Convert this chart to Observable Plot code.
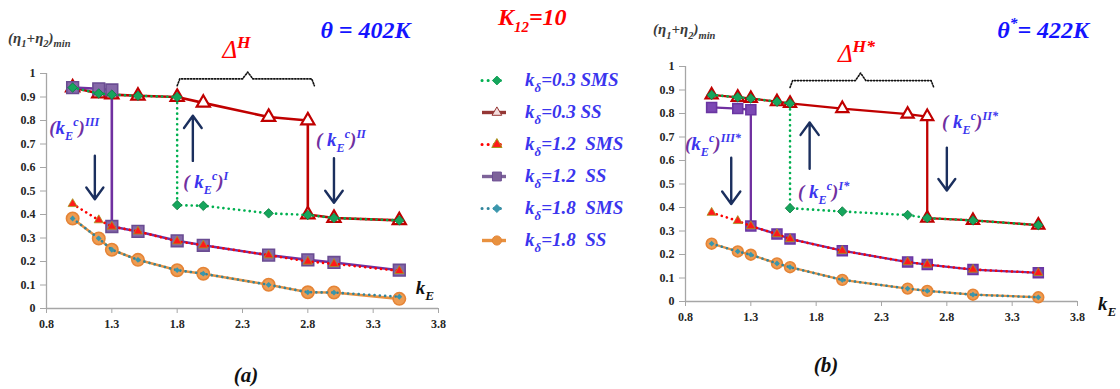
<!DOCTYPE html>
<html><head><meta charset="utf-8">
<script src="https://cdn.jsdelivr.net/npm/d3@7"></script>
<script src="https://cdn.jsdelivr.net/npm/@observablehq/plot@0.6"></script>
<style>
html,body{margin:0;padding:0;background:#fff;}
#wrap{position:relative;width:1120px;height:389px;background:#fff;overflow:hidden;}
#wrap > svg{position:absolute;top:0;}
.lbl{position:absolute;line-height:1;white-space:pre;font-family:'Liberation Serif','Times New Roman',serif;font-style:italic;}
</style></head><body><div id="wrap"></div>
<script>
// ---------- ticks ----------
const xTicks = [0.8, 1.3, 1.8, 2.3, 2.8, 3.3, 3.8];
const yTicks = [0, 0.1, 0.2, 0.3, 0.4, 0.5, 0.6, 0.7, 0.8, 0.9, 1];

// ---------- panel (a): theta = 402K ----------  [kE, (eta1+eta2)min]
const a_ss03  = [[1.0,0.94],[1.2,0.915],[1.3,0.91],[1.5,0.905],[1.8,0.90],[2.0,0.875],[2.5,0.815],[2.8,0.80],[2.8,0.40],[3.0,0.385],[3.5,0.375]];
const a_sms03 = [[1.0,0.94],[1.2,0.915],[1.3,0.91],[1.5,0.905],[1.8,0.90],[1.8,0.44],[2.0,0.437],[2.5,0.405],[2.8,0.398],[3.0,0.385],[3.5,0.375]];
const a_ss12  = [[1.0,0.94],[1.2,0.935],[1.3,0.93],[1.3,0.349],[1.5,0.328],[1.8,0.288],[2.0,0.269],[2.5,0.227],[2.8,0.207],[3.0,0.196],[3.5,0.163]];
const a_sms12 = [[1.0,0.445],[1.2,0.376],[1.3,0.349],[1.5,0.328],[1.8,0.286],[2.0,0.269],[2.5,0.227],[2.8,0.20],[3.0,0.19],[3.5,0.16]];
const a_ss18  = [[1.0,0.383],[1.2,0.298],[1.3,0.25],[1.5,0.207],[1.8,0.163],[2.0,0.148],[2.5,0.101],[2.8,0.069],[3.0,0.068],[3.5,0.041]];
const a_sms18 = [[1.0,0.383],[1.2,0.298],[1.3,0.25],[1.5,0.207],[1.8,0.163],[2.0,0.148],[2.5,0.101],[2.8,0.069],[3.0,0.068],[3.5,0.05]];

// ---------- panel (b): theta* = 422K ----------
const b_ss03  = [[1.0,0.879],[1.2,0.869],[1.3,0.864],[1.5,0.85],[1.6,0.843],[2.0,0.821],[2.5,0.797],[2.65,0.787],[2.65,0.355],[3.0,0.345],[3.5,0.325]];
const b_sms03 = [[1.0,0.879],[1.2,0.869],[1.3,0.864],[1.5,0.85],[1.6,0.843],[1.6,0.397],[2.0,0.383],[2.5,0.368],[2.65,0.355],[3.0,0.345],[3.5,0.325]];
const b_ss12  = [[1.0,0.826],[1.2,0.821],[1.3,0.816],[1.3,0.321],[1.5,0.287],[1.6,0.266],[2.0,0.216],[2.5,0.168],[2.65,0.157],[3.0,0.136],[3.5,0.122]];
const b_sms12 = [[1.0,0.378],[1.2,0.343],[1.3,0.321],[1.5,0.287],[1.6,0.266],[2.0,0.216],[2.5,0.168],[2.65,0.157],[3.0,0.136],[3.5,0.122]];
const b_ss18  = [[1.0,0.246],[1.2,0.213],[1.3,0.199],[1.5,0.162],[1.6,0.146],[2.0,0.092],[2.5,0.055],[2.65,0.045],[3.0,0.029],[3.5,0.018]];
const b_sms18 = [[1.0,0.246],[1.2,0.213],[1.3,0.199],[1.5,0.162],[1.6,0.146],[2.0,0.092],[2.5,0.055],[2.65,0.045],[3.0,0.029],[3.5,0.018]];

// ---------- legend ----------
const legendNames = ["0.3 SMS", "0.3 SS", "1.2  SMS", "1.2  SS", "1.8  SMS", "1.8  SS"];

// ---------- annotation anchors (data coordinates) ----------
const a_arrows = [[1.17,0.65,1.17,0.465],[1.92,0.628,1.92,0.82],[3.0,0.64,3.0,0.45]];
const b_arrows = [[1.15,0.612,1.15,0.415],[1.75,0.565,1.75,0.762],[2.80,0.655,2.80,0.472]];
const a_brace = [1.8, 2.34, 2.85, 0.948, 0.977, 1.006];
const b_brace = [1.6, 2.14, 2.70, 0.911, 0.940, 0.972];

const COL = {ss03:"#c00000", sms03:"#00b050", ss12:"#7030a0", sms12:"#ff0000", ss18:"#e8913f", sms18:"#31859c"};
const NAVY = "#1b2f5e", PURP = "#7030a0", LBLUE = "#3b35ee";
const FONT = "Liberation Serif";
const wrap = document.getElementById("wrap");

// HTML label with sub/superscripts; (x, y) = left (or centre) and baseline in page pixels
function label(x, y, parts, o) {
  const d = document.createElement("div");
  d.className = "lbl";
  d.style.left = x + "px";
  d.style.top = (y - 0.84 * o.size) + "px";
  d.style.fontSize = o.size + "px";
  d.style.fontWeight = o.weight ?? "bold";
  d.style.color = o.fill;
  if (o.anchor === "middle") d.style.transform = "translateX(-50%)";
  for (const p of parts) {
    const s = typeof p === "string" ? {t: p} : p;
    const sp = document.createElement("span");
    sp.textContent = s.t;
    if (s.sub || s.sup) {
      sp.style.fontSize = (o.size * (s.scale ?? 0.64)) + "px";
      sp.style.position = "relative";
      sp.style.top = (s.sub ? o.size * 0.3 : -o.size * 0.42) + "px";
    }
    if (s.fill) sp.style.color = s.fill;
    if (s.weight) sp.style.fontWeight = s.weight;
    d.appendChild(sp);
  }
  wrap.appendChild(d);
}

function kEc(sup, space) {
  return [{t: "(", fill: PURP}, (space ? " k" : "k"), {t: "E", sub: true}, {t: "c", sup: true}, {t: ")", fill: PURP}, {t: sup, sup: true}];
}

const X = d => d[0], Y = d => d[1];

function panel(cfg) {
  const s = cfg.size;
  const dotted = {strokeDasharray: "0.1 5.2", strokeLinecap: "round", strokeWidth: 2.6};
  const [bx1, bxc, bx2, blo, bmid, btop] = cfg.brace;
  const bdx = 0.04;
  const braceLine = [[bx1, blo], [bx1 + bdx/2, bmid], [bxc - bdx, bmid], [bxc, btop], [bxc + bdx, bmid], [bx2 - bdx/2, bmid], [bx2, blo]];
  const chart = Plot.plot({
    width: cfg.width, height: 389,
    marginLeft: cfg.ml, marginRight: cfg.mr, marginTop: cfg.mt, marginBottom: cfg.mb,
    x: {domain: [0.8, 3.8]},
    y: {domain: [0, 1]},
    style: {fontFamily: FONT, fontSize: "12px", fontWeight: "bold", color: "#262626", background: "transparent"},
    marks: [
      Plot.ruleX([0.8], {y1: 0, y2: 1, stroke: "#a6a6a6", strokeWidth: 1.3}),
      Plot.ruleY([0], {x1: 0.8, x2: 3.8, stroke: "#a6a6a6", strokeWidth: 1.3}),
      Plot.axisX({ticks: xTicks, tickSize: 5, tickPadding: 6, tickFormat: d => d.toFixed(1), stroke: "#a6a6a6", label: null}),
      Plot.axisY({ticks: yTicks, tickSize: 6, tickPadding: 5, tickFormat: d => String(d), stroke: "#a6a6a6", label: null}),
      // brace
      Plot.line(braceLine, {x: X, y: Y, stroke: "#111", strokeWidth: 1.6, strokeDasharray: "1.3 1.7", curve: "linear"}),
      // SS 0.3
      Plot.line(cfg.ss03, {x: X, y: Y, stroke: COL.ss03, strokeWidth: s.lw}),
      Plot.dot(cfg.ss03, {x: X, y: Y, symbol: "triangle", r: s.tri, fill: "white", stroke: COL.ss03, strokeWidth: 2.2}),
      // SS 1.2
      Plot.line(cfg.ss12, {x: X, y: Y, stroke: COL.ss12, strokeWidth: s.lw}),
      Plot.dot(cfg.ss12, {x: X, y: Y, symbol: "square", r: s.sq, fill: s.sqFill, stroke: s.sqStroke, strokeWidth: 1.6}),
      // SS 1.8
      Plot.line(cfg.ss18, {x: X, y: Y, stroke: COL.ss18, strokeWidth: s.lw}),
      Plot.dot(cfg.ss18, {x: X, y: Y, symbol: "circle", r: s.circ, fill: "#ee9c52", stroke: "#e58436", strokeWidth: 1.6}),
      // SMS 0.3
      Plot.line(cfg.sms03, {x: X, y: Y, stroke: COL.sms03, ...dotted}),
      Plot.dot(cfg.sms03, {x: X, y: Y, symbol: "diamond2", r: 4.3, fill: "#16a55c", stroke: "#0b7a3e", strokeWidth: 0.8}),
      // SMS 1.2
      Plot.line(cfg.sms12, {x: X, y: Y, stroke: COL.sms12, ...dotted}),
      Plot.dot(cfg.sms12, {x: X, y: Y, symbol: "triangle", r: 3.4, fill: "#ff1a1a", stroke: "#a39a1e", strokeWidth: 0.8}),
      // SMS 1.8
      Plot.line(cfg.sms18, {x: X, y: Y, stroke: COL.sms18, ...dotted}),
      Plot.dot(cfg.sms18, {x: X, y: Y, symbol: "diamond2", r: 2.6, fill: "#3a96ac"}),
      // arrows
      Plot.arrow(cfg.arrows, {x1: d => d[0], y1: d => d[1], x2: d => d[2], y2: d => d[3], stroke: NAVY, strokeWidth: 2.4, headLength: 11, headAngle: 72})
    ]
  });
  d3.select(chart).selectAll("text").attr("font-family", FONT).attr("font-weight", "bold");
  chart.style.left = cfg.left + "px";
  wrap.appendChild(chart);
  const sx = v => cfg.left + chart.scale("x").apply(v), sy = v => chart.scale("y").apply(v);
  for (const a of cfg.texts) label(sx(a.x), sy(a.y), a.parts, a.o);
  return chart;
}

const yTitle = ["(η", {t: "1", sub: true, scale: 0.7}, "+η", {t: "2", sub: true, scale: 0.7}, ")", {t: "min", sub: true, scale: 0.7}];

panel({
  left: 0, width: 470, ml: 46, mr: 32, mt: 73, mb: 81,
  size: {lw: 2.6, tri: 4.9, sq: 6.6, circ: 6.2, sqFill: "#8568a8", sqStroke: "#6a4c92"},
  ss03: a_ss03, sms03: a_sms03, ss12: a_ss12, sms12: a_sms12, ss18: a_ss18, sms18: a_sms18,
  arrows: a_arrows, brace: a_brace,
  texts: [
    {x: 0.51, y: 1.126, parts: yTitle, o: {size: 15, fill: "#3a3a3a"}},
    {x: 2.90, y: 1.148, parts: ["θ = 402K"], o: {size: 24, fill: "#1414ff"}},
    {x: 2.15, y: 1.063, parts: [{t: "Δ", weight: "normal"}, {t: "H", sup: true, scale: 0.7}], o: {size: 25, fill: "#ff0000"}},
    {x: 0.825, y: 0.739, parts: kEc("III"), o: {size: 19, fill: LBLUE}},
    {x: 1.85, y: 0.509, parts: kEc("I", true), o: {size: 19, fill: LBLUE}},
    {x: 2.866, y: 0.688, parts: kEc("II", true), o: {size: 19, fill: LBLUE}},
    {x: 3.63, y: 0.058, parts: ["k", {t: "E", sub: true, scale: 0.7}], o: {size: 19, fill: "#111"}},
    {x: 2.33, y: -0.317, parts: ["(a)"], o: {size: 21, fill: "#111", anchor: "middle"}}
  ]
});

panel({
  left: 640, width: 480, ml: 45, mr: 43, mt: 66, mb: 88,
  size: {lw: 2.3, tri: 4.5, sq: 5.6, circ: 5.4, sqFill: "#7c48b4", sqStroke: "#6a36a2"},
  ss03: b_ss03, sms03: b_sms03, ss12: b_ss12, sms12: b_sms12, ss18: b_ss18, sms18: b_sms18,
  arrows: b_arrows, brace: b_brace,
  texts: [
    {x: 0.555, y: 1.132, parts: yTitle, o: {size: 15, fill: "#3a3a3a"}},
    {x: 3.19, y: 1.119, parts: ["θ", {t: "*", sup: true}, "= 422K"], o: {size: 24, fill: "#1414ff"}},
    {x: 1.97, y: 1.017, parts: [{t: "Δ", weight: "normal"}, {t: "H*", sup: true, scale: 0.7}], o: {size: 25, fill: "#ff0000"}},
    {x: 0.80, y: 0.642, parts: kEc("III*"), o: {size: 19, fill: LBLUE}},
    {x: 1.665, y: 0.438, parts: kEc("I*", true), o: {size: 19, fill: LBLUE}},
    {x: 2.767, y: 0.736, parts: kEc("II*", true), o: {size: 19, fill: LBLUE}},
    {x: 3.96, y: -0.04, parts: ["k", {t: "E", sub: true, scale: 0.7}], o: {size: 19, fill: "#111"}},
    {x: 1.88, y: -0.304, parts: ["(b)"], o: {size: 21, fill: "#111", anchor: "middle"}}
  ]
});

// ---------- legend ----------
const legendStyle = [
  {stroke: "#00b050", dash: true, symbol: "diamond2", r: 4, fill: "#16a55c"},
  {stroke: "#953735", dash: false, symbol: "triangle", r: 3.6, fill: "#f3dede", sym_stroke: "#953735"},
  {stroke: "#ff0000", dash: true, symbol: "triangle", r: 3.8, fill: "#ff1a1a", sym_stroke: "#a39a1e"},
  {stroke: "#7d6399", dash: false, symbol: "square", r: 5, fill: "#7d6399", sym_stroke: "#6a4c92"},
  {stroke: "#31859c", dash: true, symbol: "diamond2", r: 3.6, fill: "#3a96ac"},
  {stroke: "#e8913f", dash: false, symbol: "circle", r: 4.6, fill: "#e8913f", sym_stroke: "#e58436"}
];
const legendMarks = [];
legendNames.forEach((n, i) => {
  const st = legendStyle[i];
  legendMarks.push(Plot.ruleY([n], {y: d => d, x1: 0, x2: 1, stroke: st.stroke,
    strokeWidth: st.dash ? 3 : 3.4, ...(st.dash ? {strokeDasharray: "0.1 6", strokeLinecap: "round"} : {})}));
  legendMarks.push(Plot.dot([n], {y: d => d, x: 0.6, symbol: st.symbol, r: st.r, fill: st.fill, stroke: st.sym_stroke ?? st.fill, strokeWidth: 1}));
});
const legend = Plot.plot({
  width: 170, height: 389, margin: 0,
  x: {domain: [0, 1], range: [12, 36], axis: null},
  y: {type: "point", domain: legendNames, range: [62, 258], axis: null},
  style: {background: "transparent"},
  marks: legendMarks
});
legend.style.left = "470px";
wrap.appendChild(legend);
const ly = legend.scale("y");
label(498, 25, ["K", {t: "12", sub: true, scale: 0.62}, "=10"], {size: 24, fill: "#ff0000"});
legendNames.forEach(n => {
  label(525, ly.apply(n) + 6, ["k", {t: "δ", sub: true, scale: 0.68}, "=" + n], {size: 19, fill: LBLUE});
});
</script></body></html>
